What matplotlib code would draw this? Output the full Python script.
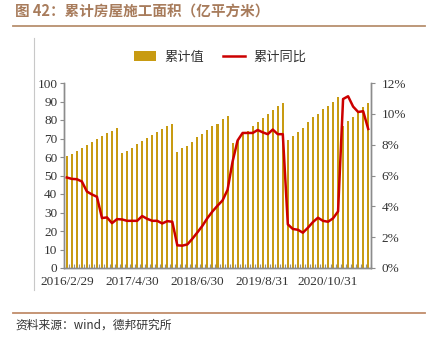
import matplotlib
matplotlib.use("Agg")
import matplotlib.pyplot as plt
from matplotlib.lines import Line2D
from matplotlib.patches import Patch
import numpy as np

# ---- data ----
months = (["2016/%d" % m for m in range(2, 13)] + ["2017/%d" % m for m in range(2, 13)] +
          ["2018/%d" % m for m in range(2, 13)] + ["2019/%d" % m for m in range(2, 13)] +
          ["2020/%d" % m for m in range(2, 13)] + ["2021/%d" % m for m in range(2, 8)])

cum_value = [60.3, 61.7, 63.1, 64.7, 66.7, 68.3, 70.0, 71.6, 72.8, 74.3, 75.7,
             61.9, 63.3, 65.1, 67.1, 68.9, 70.5, 71.9, 73.4, 74.9, 76.6, 77.9,
             62.9, 64.6, 66.0, 68.3, 70.9, 72.7, 74.8, 76.6, 78.1, 80.4, 82.0,
             67.3, 69.8, 73.0, 74.3, 77.0, 79.1, 81.0, 83.3, 85.3, 87.4, 89.0,
             69.2, 71.4, 73.6, 75.9, 79.1, 81.7, 83.5, 85.8, 87.8, 89.9, 92.4,
             76.8, 79.5, 81.7, 84.5, 87.1, 89.0]

cum_yoy = [5.87, 5.78, 5.76, 5.61, 4.96, 4.77, 4.62, 3.24, 3.28, 2.91, 3.17,
           3.15, 3.06, 3.06, 3.06, 3.37, 3.19, 3.06, 3.06, 2.89, 3.04, 3.00,
           1.47, 1.45, 1.53, 1.90, 2.31, 2.74, 3.24, 3.67, 4.04, 4.38, 5.07,
           6.90, 8.27, 8.76, 8.76, 8.76, 8.95, 8.80, 8.68, 8.98, 8.68, 8.68,
           2.83, 2.53, 2.48, 2.29, 2.61, 2.98, 3.26, 3.06, 3.00, 3.22, 3.67,
           10.96, 11.14, 10.47, 10.12, 10.17, 9.02]

tick_labels = ["2016/2/29", "2017/4/30", "2018/6/30", "2019/8/31", "2020/10/31"]
tick_months = ["2016/2", "2017/4", "2018/6", "2019/8", "2020/10"]

CJK = ["Noto Sans CJK SC", "DejaVu Sans"]
SERIF = ["Liberation Serif", "DejaVu Serif"]

bar_color = "#C89B12"
line_color = "#CC0000"
brown = "#A87C5C"

fig = plt.figure(figsize=(4.28, 3.53), dpi=100)
fig.patch.set_facecolor("white")

ax = fig.add_axes([64.3 / 428, 1 - 268 / 353, (370.7 - 64.3) / 428, (268 - 83) / 353])
x = np.arange(len(months))
ax.bar(x, cum_value, width=0.4, color=bar_color, zorder=2)
ax.set_xlim(-0.5, len(months) - 0.5)
ax.set_ylim(0, 100)
ax.set_yticks(np.arange(0, 101, 10))

ax2 = ax.twinx()
ax2.plot(x, cum_yoy, color=line_color, lw=1.8, zorder=3)
ax2.set_ylim(0, 12)
ax2.set_yticks(np.arange(0, 13, 2))
ax2.set_yticklabels(["%d%%" % v for v in range(0, 13, 2)])

ax.set_xticks([months.index(m) for m in tick_months])
ax.set_xticklabels(tick_labels)
ax.set_xticks(np.arange(-0.5, len(months), 1), minor=True)
ax.tick_params(axis="x", which="major", length=0, pad=6)
ax.tick_params(axis="x", which="minor", direction="in", length=3, color="#909090", width=0.8)

for a in (ax, ax2):
    for s in a.spines.values():
        s.set_color("#8C8C8C")
        s.set_linewidth(1.0)
    a.spines["top"].set_visible(False)
    for lab in a.get_xticklabels() + a.get_yticklabels():
        lab.set_family(SERIF)
        lab.set_fontsize(9.5)
        lab.set_color("#333333")
ax.tick_params(axis="y", length=3, color="#8C8C8C", pad=2)
ax2.tick_params(axis="y", length=3, color="#8C8C8C", pad=5)

# legend
handles = [Patch(facecolor=bar_color, edgecolor="none"),
           Line2D([0], [0], color=line_color, lw=1.8)]
fig.legend(handles, ["累计值", "累计同比"], loc="center", bbox_to_anchor=(220 / 428, 1 - 57 / 353),
           ncol=2, frameon=False, prop={"family": CJK, "size": 9.5}, handlelength=1.7,
           handleheight=0.7, columnspacing=1.4, handletextpad=0.6, labelcolor="#333333")

# title, rules and source
fig.text(15 / 428, 1 - 12 / 353, "图 42：累计房屋施工面积（亿平方米）", family=CJK, fontsize=10.5,
         fontweight="bold", color=brown, ha="left", va="center")
fig.add_artist(Line2D([13 / 428, 425 / 428], [1 - 25.5 / 353] * 2, color="#B8906E", lw=1.3))
fig.add_artist(Line2D([33.5 / 428] * 2, [1 - 38 / 353, 1 - 290 / 353], color="#C8C8C8", lw=0.8))
fig.add_artist(Line2D([13 / 428, 425 / 428], [1 - 313 / 353] * 2, color="#C08C6A", lw=1.3))
fig.text(15 / 428, 1 - 325 / 353, "资料来源：wind，德邦研究所", family=CJK, fontsize=8.5,
         color="#333333", ha="left", va="center")

fig.savefig("out.png", dpi=100, facecolor="white")
